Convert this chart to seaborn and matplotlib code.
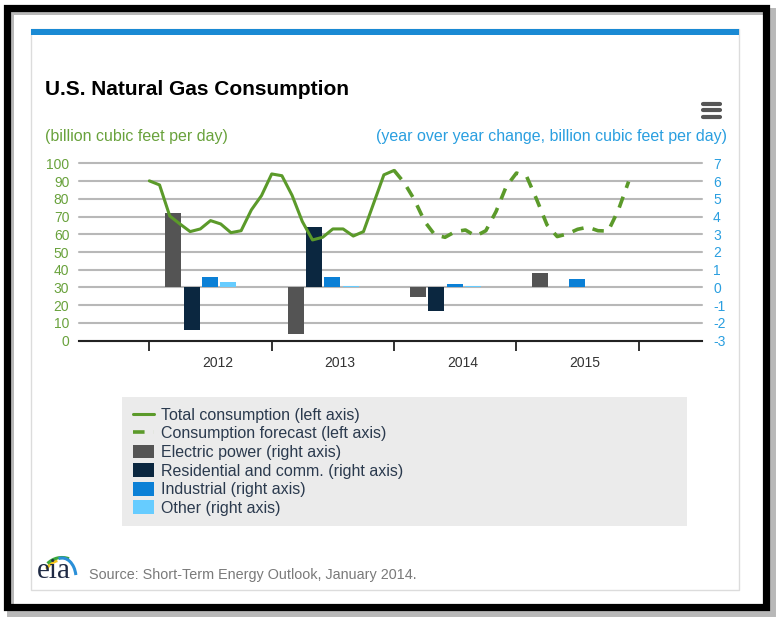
import matplotlib
matplotlib.use("Agg")
import pandas as pd
import matplotlib.pyplot as plt
import seaborn as sns
from matplotlib.patches import Rectangle, Arc
from matplotlib.lines import Line2D

# monthly consumption, billion cubic feet per day (month 0 = Jan 2012)
hist_month = list(range(0, 25))
hist_bcfd = [90.1, 87.8, 70.3, 65.8, 61.5, 63.0, 67.7, 65.8, 60.9, 62.0, 73.7, 81.8,
             94.0, 93.0, 81.9, 67.2, 56.8, 58.3, 63.0, 63.0, 59.0, 61.5, 77.5, 93.5, 96.0]
fc_month = list(range(24, 48))
fc_bcfd = [96.0, 89.0, 79.4, 67.2, 59.6, 58.3, 61.5, 62.4, 59.0, 62.0, 72.8, 86.9,
           94.5, 92.6, 79.4, 65.3, 58.7, 60.2, 62.8, 64.0, 62.0, 61.8, 73.7, 89.7]

# year over year change by sector (right axis)
years = ["2012", "2013", "2014", "2015"]
year_start = [0, 12, 24, 36]
electric = [4.2, -2.6, -0.55, 0.8]
residential = [-2.4, 3.4, -1.3, 0.0]
industrial = [0.6, 0.6, 0.17, 0.5]
other = [0.3, 0.08, 0.1, 0.0]

GREEN = "#5b9a2a"
GREEN_TXT = "#69a23c"
BLUE_TXT = "#2a9fe0"
GRID = "#b8b8b8"
sectors = [
    ("Electric power (right axis)", electric, "#545454"),
    ("Residential and comm. (right axis)", residential, "#0b2740"),
    ("Industrial (right axis)", industrial, "#0b80d6"),
    ("Other (right axis)", other, "#66ccff"),
]

sns.set_theme(style="white")
plt.rcParams["font.family"] = ["Liberation Sans", "DejaVu Sans"]
plt.rcParams["axes.unicode_minus"] = False

W, H = 782, 624
fig = plt.figure(figsize=(W / 100, H / 100), dpi=100)


def fx(px):
    return px / W


def fy(py):
    return 1 - py / H


# frame, shadow and panel
fig.patches.append(Rectangle((fx(9.5), fy(613)), fx(772) - fx(9.5), (613 - 10.5) / H,
                             transform=fig.transFigure, fill=False, ec="#b8b8b8", lw=5))
fig.patches.append(Rectangle((fx(6.5), fy(606.5)), fx(766) - fx(6.5), (606.5 - 7.5) / H,
                             transform=fig.transFigure, fill=False, ec="black", lw=5.2))
fig.patches.append(Rectangle((fx(31), fy(590)), fx(739) - fx(31), (590 - 29) / H,
                             transform=fig.transFigure, fc="white", ec="#dcdcdc", lw=1))
fig.patches.append(Rectangle((fx(31), fy(35)), fx(739) - fx(31), 6 / H,
                             transform=fig.transFigure, fc="#1a8ad4", ec="none"))

# hamburger menu icon
for yy in (104, 110, 116.5):
    fig.lines.append(Line2D([fx(703), fx(720)], [fy(yy), fy(yy)], transform=fig.transFigure,
                            color="#555555", lw=3, solid_capstyle="round"))

fig.text(fx(45), fy(95), "U.S. Natural Gas Consumption", fontsize=15, fontweight="bold",
         color="black", va="baseline")
fig.text(fx(45), fy(141.5), "(billion cubic feet per day)", fontsize=11.5,
         color=GREEN_TXT, va="baseline")
fig.text(fx(727), fy(141.5), "(year over year change, billion cubic feet per day)",
         fontsize=11.5, color=BLUE_TXT, va="baseline", ha="right")

# axes: ax2 (right, bars + grid) underneath, ax (left, lines) on top
ax = fig.add_axes([fx(79), fy(340.7), fx(702) - fx(79), (340.7 - 163.3) / H])
ax2 = ax.twinx()
ax.set_zorder(3)
ax2.set_zorder(2)
ax.patch.set_visible(False)

ax2.set_ylim(-3, 7)
ax2.set_yticks(range(-3, 8))
for t in ax2.get_yticks():
    ax2.axhline(t, color=GRID, lw=1.5, zorder=0.5, clip_on=False)

offsets = [2.35, 4.15, 5.95, 7.75]
for i, (label, vals, color) in enumerate(sectors):
    xs = [s + offsets[i] for s in year_start]
    ax2.bar(xs, vals, width=1.55, color=color, edgecolor="none", label=label, zorder=2)

line_df = pd.DataFrame({"month": hist_month, "bcfd": hist_bcfd})
fc_df = pd.DataFrame({"month": fc_month, "bcfd": fc_bcfd})
sns.lineplot(data=line_df, x="month", y="bcfd", ax=ax, color=GREEN, lw=2.2,
             label="Total consumption (left axis)")
sns.lineplot(data=fc_df, x="month", y="bcfd", ax=ax, color=GREEN, lw=2.6,
             linestyle=(0, (3.2, 2.6)), label="Consumption forecast (left axis)")

ax.set_xlim(-6.9, 54.2)
ax.set_ylim(0, 100)
ax.set_yticks(range(0, 101, 10))
ax.set_xticks([0, 12, 24, 36, 48])
ax.set_xticklabels([])
ax.set_xticks([6.7 + s for s in year_start], minor=True)
ax.set_xticklabels(years, minor=True)
ax.set_xlabel("")
ax.set_ylabel("")
ax2.set_ylabel("")

ax.tick_params(axis="x", which="major", length=7, width=1.3, color="#222222",
               direction="out", bottom=True)
ax.tick_params(axis="x", which="minor", length=0, pad=11, labelsize=10, labelcolor="#333333")
ax.tick_params(axis="y", length=0, pad=7, labelsize=10, labelcolor=GREEN_TXT)
ax2.tick_params(axis="y", length=0, pad=8, labelsize=10, labelcolor=BLUE_TXT)

for a in (ax, ax2):
    for side in ("top", "left", "right", "bottom"):
        a.spines[side].set_visible(False)
ax.spines["bottom"].set_visible(True)
ax.spines["bottom"].set_color("#222222")
ax.spines["bottom"].set_linewidth(1.5)

handles = ax.get_legend_handles_labels()[0] + ax2.get_legend_handles_labels()[0]
labels = ax.get_legend_handles_labels()[1] + ax2.get_legend_handles_labels()[1]
if ax.get_legend() is not None:
    ax.get_legend().remove()
leg = fig.legend(handles, labels, loc="upper left",
                 bbox_to_anchor=(fx(122), fy(522), fx(687) - fx(122), (522 - 397) / H),
                 mode="expand", frameon=True, facecolor="#ebebeb", edgecolor="none",
                 fancybox=False, framealpha=1, fontsize=11.5, labelcolor="#2b3a4e",
                 handlelength=1.35, handleheight=0.95, handletextpad=0.42,
                 labelspacing=0.2, borderpad=0.66, borderaxespad=0)

# source line with eia logo
fig.text(fx(89), fy(579), "Source: Short-Term Energy Outlook, January 2014.",
         fontsize=10.4, color="#7a7a7a", va="baseline")
logo = fig.add_axes([fx(34), fy(590), fx(80) - fx(34), (590 - 548) / H])
logo.set_zorder(5)
logo.patch.set_visible(False)
logo.set_xlim(0, 46)
logo.set_ylim(0, 42)
logo.axis("off")
logo.text(2.5, 12, "eia", fontsize=21, family=["Liberation Serif", "DejaVu Serif"],
          color="#1f2a44", va="baseline")
logo.add_patch(Arc((28, 12), 36, 36, theta1=105, theta2=150, color="#f2c21b", lw=2.2))
logo.add_patch(Arc((28, 12), 41, 41, theta1=70, theta2=135, color="#3aa63a", lw=2.2))
logo.add_patch(Arc((28, 12), 28, 40, theta1=12, theta2=100, color="#2a8fd8", lw=2.2))

fig.savefig("out.png", dpi=100)
